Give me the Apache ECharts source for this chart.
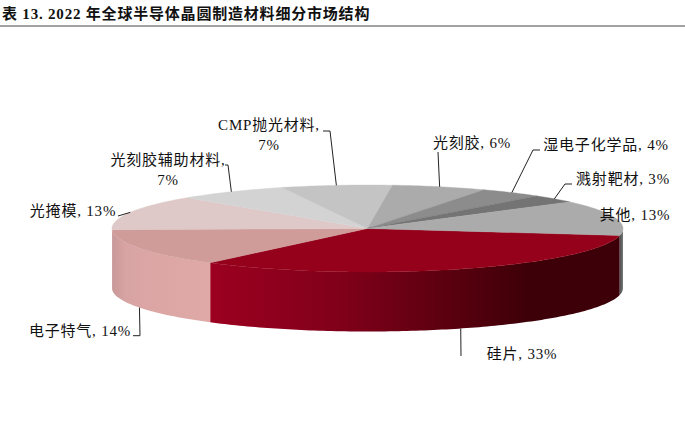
<!DOCTYPE html>
<html>
<head>
<meta charset="utf-8">
<style>
html,body{margin:0;padding:0;background:#fff}
#c{width:685px;height:442px}
#c text{letter-spacing:0.8px}
</style>
<script src="https://cdn.jsdelivr.net/npm/echarts@6/dist/echarts.min.js"></script>
</head>
<body>
<div id="c"></div>
<script>
// data
const chartTitle = '表 13. 2022 年全球半导体晶圆制造材料细分市场结构';
const categories = ['硅片','电子特气','光掩模','光刻胶辅助材料','CMP抛光材料','光刻胶','湿电子化学品','溅射靶材','其他'];
const shares = [33,14,13,7,7,6,4,3,13];

// styles
const FONT = '"Liberation Serif","Noto Sans CJK SC",serif';
const topColors = ['#95001A','#CF9C9A','#DFC8C8','#D3D3D3','#C4C4C4','#ABABAB','#8C8C8C','#747474','#ABABAB'];
const sideStops = [
  [[0,'#9C0020'],[0.32,'#80001A'],[0.62,'#55000D'],[0.78,'#3D0008'],[1,'#3D0008']],
  [[0,'#C89898'],[0.14,'#D8A4A3'],[0.45,'#DCA6A5'],[1,'#DFA9A8']],
  [[0,'#C89898'],[1,'#C89898']],
  null,null,null,null,null,
  [[0,'#4A4A4A'],[1,'#7A7A7A']]
];
// pie geometry (px) and rotation of the first slice
const G = {cx:367.5, cy:228.5, rx:255.5, ry:43.5, depth:59.5, start:9.2};
// label position and leader elbow points, one per category
const labelPlace = [
  {x:522,y:354,align:'center',leader:[[461,356]]},
  {x:80,y:331,align:'center',leader:[[140,335.7],[133,335.7]]},
  {x:73,y:211,align:'center',leader:[[118,216]]},
  {x:168,y:170,align:'center',leader:[[228,165],[225,165]]},
  {x:269,y:135,align:'center',leader:[[330,131],[323,131]]},
  {x:472,y:143,align:'center',leader:[[438,152]]},
  {x:606,y:145,align:'center',leader:[[533,150],[540,150]]},
  {x:623,y:179,align:'center',leader:[[565,184],[572,184]]},
  {x:635,y:215,align:'center',leader:null}
];
const multiLine = [false,false,false,true,true,false,false,false,false];

const total = shares.reduce((a,b)=>a+b,0);
const bounds = [];
{ let acc = G.start; shares.forEach(v=>{ const s = acc; acc += v/total*360; bounds.push([s,acc]); }); }
const pt = (deg,dy=0)=>{ const t=deg*Math.PI/180; return [G.cx+G.rx*Math.cos(t), G.cy+G.ry*Math.sin(t)+dy]; };
const arc = (a,b,dy=0)=>{ const n=Math.max(2,Math.ceil(Math.abs(b-a))); const r=[]; for(let i=0;i<=n;i++) r.push(pt(a+(b-a)*i/n,dy)); return r; };

// sides are visible only where the rim faces the viewer (0..180 deg, also 360..540)
function sideRange(i){
  let [a,b] = bounds[i];
  for (const k of [0,360]) {
    const s=Math.max(a,k), e=Math.min(b,k+180);
    if (e>s) return [s,e];
  }
  return null;
}

const rows = categories.map((c,i)=>[i,shares[i]]);

function renderSide(params,api){
  const i = api.value(0), r = sideRange(i);
  if(!r || !sideStops[i]) return {type:'group',children:[]};
  const pts = arc(r[0],r[1]).concat(arc(r[1],r[0],G.depth));
  return {type:'polygon',shape:{points:pts},style:{fill:{type:'linear',x:0,y:0,x2:1,y2:0,
    colorStops:sideStops[i].map(s=>({offset:s[0],color:s[1]}))}}};
}
function renderTop(params,api){
  const i = api.value(0), b = bounds[i];
  const pts = [[G.cx,G.cy]].concat(arc(b[0],b[1]));
  return {type:'polygon',shape:{points:pts},style:{fill:topColors[i],stroke:topColors[i],lineWidth:0.4}};
}
function renderLabel(params,api){
  const i = api.value(0), v = api.value(1), p = labelPlace[i], b = bounds[i];
  const children = [];
  if (p.leader){
    const mid = (b[0]+b[1])/2;
    const rimFront = ((mid%360)+360)%360 < 180;
    const anchor = pt(mid, rimFront ? G.depth : 0);
    children.push({type:'polyline',shape:{points:[anchor].concat(p.leader)},
      style:{fill:null,stroke:'#222',lineWidth:1}});
  }
  const text = multiLine[i] ? categories[i]+',\n'+v+'%' : categories[i]+', '+v+'%';
  children.push({type:'text',style:{text,x:p.x,y:p.y,align:p.align,verticalAlign:'middle',
    fill:'#111',font:'15px '+FONT,lineHeight:20}});
  return {type:'group',children};
}

const chart = echarts.init(document.getElementById('c'),null,{renderer:'svg',width:685,height:442});
chart.setOption({
  animation:false,
  backgroundColor:'#fff',
  title:{text:chartTitle,left:2,top:6,padding:0,itemGap:0,
    textStyle:{fontFamily:FONT,fontSize:15,fontWeight:'bold',color:'#111'}},
  tooltip:{show:false},
  graphic:[{type:'line',shape:{x1:0,y1:26,x2:685,y2:26},style:{stroke:'#444',lineWidth:1}}],
  series:[
    {type:'custom',name:'side',coordinateSystem:'none',z:2,silent:true,data:rows,renderItem:renderSide},
    {type:'custom',name:'top',coordinateSystem:'none',z:3,silent:true,data:rows,renderItem:renderTop},
    {type:'custom',name:'labels',coordinateSystem:'none',z:4,silent:true,data:rows,renderItem:renderLabel}
  ]
});
</script>
</body>
</html>
